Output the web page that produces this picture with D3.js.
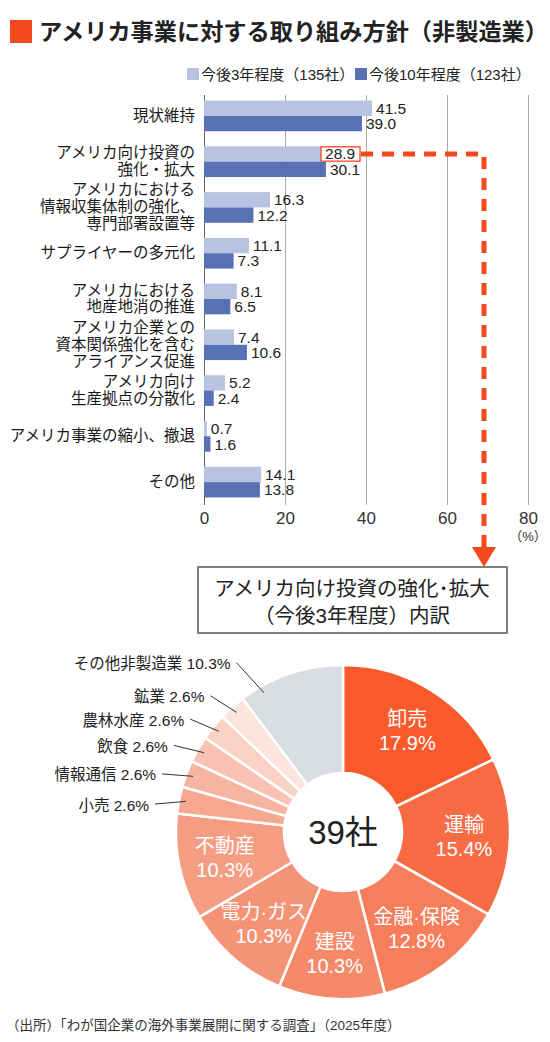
<!DOCTYPE html>
<html>
<head>
<meta charset="utf-8">
<script src="https://cdn.jsdelivr.net/npm/d3@7"></script>
<style>
body { margin: 0; background: #fff; }
svg { display: block; font-family: "Liberation Sans", "Noto Sans CJK JP", sans-serif; }
</style>
</head>
<body>
<script>

// ---- data ----
const title = "アメリカ事業に対する取り組み方針（非製造業）";
const categories = [
    ["現状維持"],
    ["アメリカ向け投資の", "強化・拡大"],
    ["アメリカにおける", "情報収集体制の強化、", "専門部署設置等"],
    ["サプライヤーの多元化"],
    ["アメリカにおける", "地産地消の推進"],
    ["アメリカ企業との", "資本関係強化を含む", "アライアンス促進"],
    ["アメリカ向け", "生産拠点の分散化"],
    ["アメリカ事業の縮小、撤退"],
    ["その他"]
];
const next3 = [41.5, 28.9, 16.3, 11.1, 8.1, 7.4, 5.2, 0.7, 14.1];
const next10 = [39.0, 30.1, 12.2, 7.3, 6.5, 10.6, 2.4, 1.6, 13.8];
const seriesNames = ["今後3年程度（135社）", "今後10年程度（123社）"];
const xTicks = [0, 20, 40, 60, 80];

const boxTitle = ["アメリカ向け投資の強化･拡大", "（今後3年程度）内訳"];
const sectors = ["卸売", "運輸", "金融·保険", "建設", "電力·ガス", "不動産",
                 "小売", "情報通信", "飲食", "農林水産", "鉱業", "その他非製造業"];
const shares = [17.9, 15.4, 12.8, 10.3, 10.3, 10.3, 2.6, 2.6, 2.6, 2.6, 2.6, 10.3];
const totalCompanies = "39社";
const source = "（出所）「わが国企業の海外事業展開に関する調査」（2025年度）";

// ---- styles ----
const barColors = ["#B7C3E1", "#5771B5"];
const accent = "#F24A1C";
const sliceColors = ["#F95A2C", "#F76C44", "#F67E5B", "#F5896A", "#F59377", "#F59D83",
                     "#F6A891", "#F7B4A0", "#F9C2B2", "#FAD2C5", "#FCE5DC", "#D9DCE0"];

const width = 550;
const height = 1042;

const svg = d3.select("body").append("svg")
    .attr("width", width)
    .attr("height", height)
    .attr("viewBox", [0, 0, width, height]);

// Title
svg.append("rect")
    .attr("x", 10).attr("y", 20)
    .attr("width", 22).attr("height", 23)
    .attr("fill", accent);
svg.append("text")
    .attr("x", 39).attr("y", 32)
    .attr("dominant-baseline", "central")
    .attr("font-size", 23.2)
    .attr("font-weight", 700)
    .attr("fill", "#222")
    .text(title);

// Legend
const legendX = [187, 355];
const legend = svg.append("g").selectAll("g")
    .data(seriesNames)
    .join("g")
    .attr("transform", (d, i) => `translate(${legendX[i]},74)`);
legend.append("rect")
    .attr("x", 0).attr("y", -6)
    .attr("width", 12).attr("height", 12)
    .attr("fill", (d, i) => barColors[i]);
legend.append("text")
    .attr("x", 14)
    .attr("dominant-baseline", "central")
    .attr("font-size", 15)
    .attr("fill", "#222")
    .text(d => d);

// ---- bar chart ----
const marginLeft = 204;
const x = d3.scaleLinear([0, 80], [marginLeft, 528]);
const y = d3.scaleBand(d3.range(categories.length), [93, 505])
    .paddingInner(0.33)
    .paddingOuter(0.165);
const y1 = d3.scaleBand([0, 1], [0, y.bandwidth()]);

// Grid lines and x-axis labels
svg.append("g")
    .attr("transform", "translate(0,505)")
    .call(d3.axisBottom(x).tickValues(xTicks).tickSize(0).tickPadding(7))
    .call(g => g.select(".domain").remove())
    .call(g => g.attr("font-family", null).attr("font-size", 17))
    .call(g => g.selectAll(".tick text").attr("fill", "#333"))
    .call(g => g.selectAll(".tick").append("line")
        .attr("y1", 0)
        .attr("y2", 95 - 505)
        .attr("stroke", d => d === 0 ? "#666" : "#aaa")
        .attr("stroke-width", 1))
    .call(g => g.append("text")
        .attr("x", x(80))
        .attr("y", 36)
        .attr("fill", "#333")
        .attr("font-size", 13)
        .attr("text-anchor", "middle")
        .text("（%）"));

const rows = categories.map((c, i) => ({label: c, values: [next3[i], next10[i]], i}));

const row = svg.append("g").selectAll("g")
    .data(rows)
    .join("g")
    .attr("transform", d => `translate(0,${y(d.i)})`);

// Category labels
row.append("text")
    .attr("x", 195)
    .attr("y", y.bandwidth() / 2)
    .attr("text-anchor", "end")
    .attr("font-size", 15.5)
    .attr("fill", "#1a1a1a")
    .selectAll("tspan")
    .data(d => d.label.map((t, k) => ({t, k, n: d.label.length})))
    .join("tspan")
    .attr("x", 195)
    .attr("dy", d => d.k === 0 ? `${-(d.n - 1) * 17 / 2 + 5}` : 17)
    .text(d => d.t);

// Bars
row.selectAll("rect")
    .data(d => d.values)
    .join("rect")
    .attr("x", x(0))
    .attr("y", (v, j) => y1(j))
    .attr("width", v => x(v) - x(0))
    .attr("height", y1.bandwidth())
    .attr("fill", (v, j) => barColors[j]);

// Highlight box on 28.9 and connector
const hiY = y(1) + y1(0);
const hiX = x(next3[1]);
const hiW = 39;
svg.append("rect")
    .attr("x", hiX).attr("y", hiY + 0.5)
    .attr("width", hiW).attr("height", y1.bandwidth() - 1)
    .attr("fill", "#fff")
    .attr("stroke", accent)
    .attr("stroke-width", 1.3);

// Value labels
svg.append("g").selectAll("text")
    .data(rows.flatMap(d => d.values.map((v, j) => ({v, j, i: d.i}))))
    .join("text")
    .attr("x", d => x(d.v) + 4)
    .attr("y", d => y(d.i) + y1(d.j) + y1.bandwidth() / 2)
    .attr("dominant-baseline", "central")
    .attr("font-size", 15.5)
    .attr("fill", "#222")
    .text(d => d.v.toFixed(1));

const boxTop = 567;
const arrowX = 484;
const connY = hiY + y1.bandwidth() / 2;
svg.append("path")
    .attr("d", d3.line()([[hiX + hiW + 1, connY], [arrowX, connY], [arrowX, boxTop - 19]]))
    .attr("fill", "none")
    .attr("stroke", accent)
    .attr("stroke-width", 5)
    .attr("stroke-dasharray", "12,9");
svg.append("path")
    .attr("d", `M${arrowX - 12},${boxTop - 20}L${arrowX + 12},${boxTop - 20}L${arrowX},${boxTop}Z`)
    .attr("fill", accent);

// Sub-title box
svg.append("rect")
    .attr("x", 198).attr("y", boxTop)
    .attr("width", 309).attr("height", 66)
    .attr("fill", "#fff")
    .attr("stroke", "#555")
    .attr("stroke-width", 1.5);
svg.append("g").selectAll("text")
    .data(boxTitle)
    .join("text")
    .attr("x", 352)
    .attr("y", (d, i) => boxTop + 21 + i * 27)
    .attr("text-anchor", "middle")
    .attr("dominant-baseline", "central")
    .attr("font-size", 20.5)
    .attr("fill", "#222")
    .text(d => d);

// ---- donut ----
const cx = 343, cy = 832;
const outerR = 167, innerR = 59;
const pie = d3.pie().sort(null).value(d => d.share);
const slices = pie(sectors.map((s, i) => ({name: s, share: shares[i], i})));
const arc = d3.arc().innerRadius(innerR).outerRadius(outerR);
const labelArc = d3.arc().innerRadius(121).outerRadius(121);

const donut = svg.append("g").attr("transform", `translate(${cx},${cy})`);
donut.selectAll("path")
    .data(slices)
    .join("path")
    .attr("d", arc)
    .attr("fill", d => sliceColors[d.data.i])
    .attr("stroke", "#fff")
    .attr("stroke-width", 2.5);

// Labels inside the larger slices
const big = slices.filter(d => d.data.i < 6);
const inner = donut.selectAll("text.in")
    .data(big)
    .join("text")
    .attr("class", "in")
    .attr("transform", d => `translate(${labelArc.centroid(d)})`)
    .attr("text-anchor", "middle")
    .attr("font-size", 20)
    .attr("fill", "#fff");
inner.append("tspan").attr("x", 0).attr("dy", -4).text(d => d.data.name);
inner.append("tspan").attr("x", 0).attr("dy", 24).text(d => d.data.share.toFixed(1) + "%");

// Callouts for the small slices and その他
const calloutAt = {"その他非製造業": {f: 0.2, r: 200}};
const small = slices.filter(d => d.data.i >= 6);
const polar = (a, r) => [r * Math.sin(a), -r * Math.cos(a)];
small.forEach(d => {
    const c = calloutAt[d.data.name] ?? {f: 0.5, r: 190};
    const a = d.startAngle + (d.endAngle - d.startAngle) * c.f;
    const p0 = polar(a, 160);
    const p1 = polar(a - 0.045, c.r);
    donut.append("line")
        .attr("x1", p0[0]).attr("y1", p0[1])
        .attr("x2", p1[0]).attr("y2", p1[1])
        .attr("stroke", "#333")
        .attr("stroke-width", 1);
    donut.append("text")
        .attr("x", p1[0] - 6)
        .attr("y", p1[1] + 1)
        .attr("text-anchor", "end")
        .attr("dominant-baseline", "central")
        .attr("font-size", 15.5)
        .attr("fill", "#222")
        .text(d.data.name + " " + d.data.share.toFixed(1) + "%");
});

donut.append("text")
    .attr("text-anchor", "middle")
    .attr("dominant-baseline", "central")
    .attr("font-size", 33)
    .attr("fill", "#222")
    .text(totalCompanies);

// Source
svg.append("text")
    .attr("x", 6).attr("y", 1025)
    .attr("dominant-baseline", "central")
    .attr("font-size", 13.5)
    .attr("fill", "#333")
    .text(source);

</script>
</body>
</html>
